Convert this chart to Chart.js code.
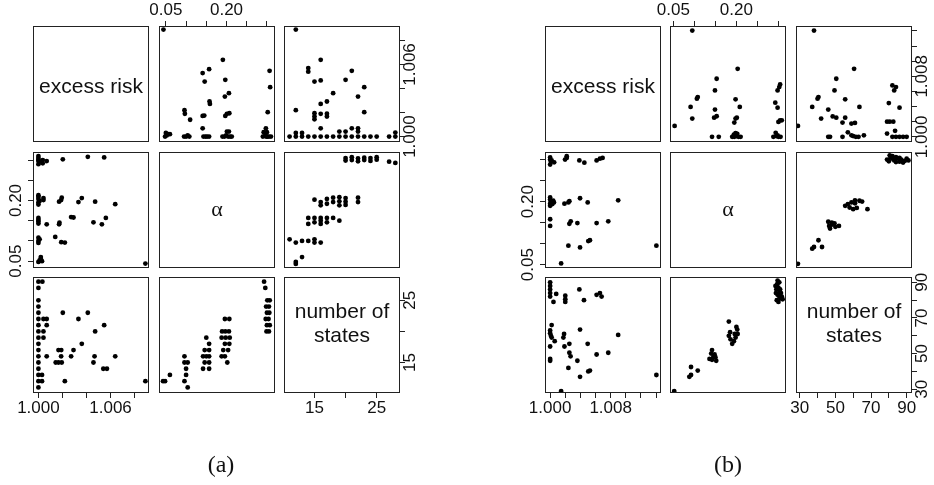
<!DOCTYPE html>
<html>
<head>
<meta charset="utf-8">
<title>pairs plots</title>
<script src="https://cdn.jsdelivr.net/npm/chart.js@4.4.1/dist/chart.umd.min.js"></script>
<style>
  body { margin: 0; background: #fff; }
  #fig { position: relative; width: 934px; height: 485px; overflow: hidden; }
  .cell { position: absolute; }
  .lab { position: absolute; width: 200px; text-align: center; white-space: nowrap; color: #111; }
  .sans { font: 21px/21px "Liberation Sans", Arial, sans-serif; }
  .two { line-height: 24.4px; }
  .greek { font: 22px/22px "Liberation Serif", "DejaVu Serif", serif; }
  .cap { font: 24px/24px "Liberation Serif", "DejaVu Serif", serif; }
</style>
</head>
<body>
<div id="fig">
  <div class="lab sans" style="left:-9px; top:75px">excess risk</div>
  <div class="lab greek" style="left:117px; top:198px">α</div>
  <div class="lab sans two" style="left:242px; top:299px">number of<br>states</div>
  <div class="lab sans" style="left:503px; top:75px">excess risk</div>
  <div class="lab greek" style="left:628px; top:198px">α</div>
  <div class="lab sans two" style="left:754px; top:299px">number of<br>states</div>
  <div class="lab cap" style="left:121px; top:452px">(a)</div>
  <div class="lab cap" style="left:628px; top:452px">(b)</div>
</div>
<script>
// ---- (a) alpha vs excess risk
const aArAlpha = [0.044, 0.048, 0.050, 0.052, 0.056, 0.060,
  0.096, 0.097, 0.110, 0.095, 0.100, 0.104, 0.108,
  0.141, 0.157, 0.146, 0.158, 0.159, 0.141, 0.145, 0.141, 0.143, 0.148, 0.152, 0.157,
  0.191, 0.197, 0.206, 0.196, 0.201, 0.207, 0.197, 0.201, 0.206, 0.190, 0.195, 0.199, 0.204, 0.209, 0.213,
  0.3066, 0.308, 0.302, 0.2975, 0.292, 0.300, 0.290, 0.296, 0.301, 0.305, 0.310, 0.298];
const aArRisk = [1.0089, 1.0000, 1.0003, 1.0001, 1.0002, 1.0002,
  1.0022, 1.0019, 1.0014, 1.0000, 1.0000, 1.0001, 1.0000,
  1.00528, 1.00561, 1.00458, 1.00292, 1.00272, 1.00172, 1.00175, 1.00069, 1.0000, 1.0000, 1.0000, 1.0000,
  1.00639, 1.00472, 1.00361, 1.00333, 1.00189, 1.00194, 1.00172, 1.00042, 1.00042, 1.0000, 1.0000, 1.0001, 1.0000, 1.0000, 1.0000,
  1.00547, 1.00411, 1.00203, 1.00069, 1.00036, 1.00036, 1.0000, 1.0001, 1.0000, 1.0000, 1.0000, 1.0000];

// ---- (a) number of states vs excess risk
const aSrStates = [12, 12, 14, 14, 15, 16, 16, 18, 17, 16, 15, 15, 15, 16, 17, 17, 16, 20, 21, 22, 23, 23, 21, 22, 22, 19, 20, 12, 13, 28,
  11, 12, 13, 14, 15, 16, 17, 18, 19, 20, 21, 22, 23, 24, 25, 27, 28];
const aSrRisk = [1.0089, 1.0022, 1.0057, 1.0054, 1.00458, 1.00639, 1.00467, 1.00361, 1.00292, 1.00272,
  1.00194, 1.00167, 1.00144, 1.00189, 1.0019, 1.00167, 1.00069, 1.00472, 1.00547, 1.00333,
  1.00411, 1.00203, 1.00069, 1.00069, 1.00042, 1.00042, 1.00042, 1.0003, 1.0003, 1.00033,
  1.0000, 1.0000, 1.0000, 1.0000, 1.0000, 1.0000, 1.0000, 1.0000, 1.0000, 1.0000, 1.0000, 1.0000, 1.0000, 1.0000, 1.0000, 1.0000, 1.0000];

// ---- (a) number of states vs alpha
const aSaStates = [20, 20, 21, 21, 22, 22, 23, 23, 24, 24, 25, 25, 27, 28,
  15, 16, 16, 17, 17, 18, 18, 19, 19, 19, 20, 20, 20, 22, 22,
  14, 14, 15, 15, 16, 16, 16, 17, 17, 18, 19,
  11, 12, 13, 14, 15, 15, 16,
  12, 12, 13];
const aSaAlpha = [0.305, 0.299, 0.307, 0.300, 0.304, 0.297, 0.306, 0.300, 0.305, 0.298, 0.307, 0.301, 0.296, 0.293,
  0.202, 0.196, 0.188, 0.204, 0.192, 0.207, 0.196, 0.208, 0.198, 0.188, 0.206, 0.197, 0.189, 0.207, 0.196,
  0.157, 0.142, 0.157, 0.146, 0.157, 0.150, 0.142, 0.157, 0.146, 0.157, 0.150,
  0.104, 0.096, 0.100, 0.100, 0.104, 0.096, 0.096,
  0.048, 0.043, 0.060];

// ---- (b) alpha vs excess risk
const bArAlpha = [0.053, 0.095, 0.091, 0.095, 0.106, 0.108,
  0.153, 0.149, 0.149, 0.147, 0.153, 0.142, 0.158,
  0.203, 0.198, 0.208, 0.198, 0.201, 0.195, 0.198, 0.194, 0.202, 0.190, 0.195, 0.200, 0.205, 0.210,
  0.304, 0.302, 0.298, 0.2925, 0.298, 0.304, 0.308, 0.300, 0.2935, 0.288, 0.295, 0.300, 0.305, 0.298];
const bArRisk = [1.00145, 1.01404, 1.00395, 1.00241, 1.00504, 1.00526,
  1.00768, 1.00614, 1.0036, 1.00254, 1.00272, 1.0000, 1.0000,
  1.00899, 1.00496, 1.00395, 1.00241, 1.00254, 1.00189, 1.0005, 1.0003, 1.0004, 1.0000, 1.0000, 1.0001, 1.0000, 1.0000,
  1.00693, 1.00658, 1.00614, 1.00452, 1.00386, 1.00219, 1.00219, 1.00197, 1.00053, 1.0000, 1.0001, 1.0000, 1.0000, 1.0002];

// ---- (b) number of states vs excess risk
const bSrStates = [29, 38, 37, 42, 40, 40.5, 46, 49.5, 50.5, 48.5, 50.5, 46, 47, 55.5, 55.5, 54, 60.5, 61, 63.5, 59,
  57, 59, 54, 60, 61.5, 63, 66, 80, 79, 80.5, 82.5, 79, 82, 84, 83, 83.5, 86, 82, 84, 86, 88, 90];
const bSrRisk = [1.00145, 1.01404, 1.00395, 1.00241, 1.00504, 1.00526, 1.0036, 1.00614, 1.00768, 1.0027,
  1.00254, 1.0000, 1.0000, 1.00496, 1.00254, 1.00189, 1.00899, 1.00184, 1.00395, 1.00175,
  1.0006, 1.0002, 1.0000, 1.0001, 1.0000, 1.0000, 1.0002, 1.00447, 1.0020, 1.0020,
  1.0020, 1.00044, 1.0068, 1.00658, 1.00614, 1.0008, 1.00386, 1.0000, 1.0000, 1.0000, 1.0000, 1.0000];

// ---- (b) number of states vs alpha
const bSaStates = [29, 37, 38, 40.5, 42.5,
  46, 46.5, 47, 48, 49.5, 50, 52, 48,
  55.5, 57, 58, 60, 61, 62, 63.5, 65, 68, 59, 61,
  79, 80, 80.5, 81, 82, 83, 84, 85, 86, 87, 88, 89, 90, 91, 82, 84, 86];
const bSaAlpha = [0.052, 0.088, 0.092, 0.108, 0.092,
  0.152, 0.142, 0.136, 0.145, 0.148, 0.140, 0.142, 0.150,
  0.190, 0.194, 0.186, 0.182, 0.196, 0.185, 0.202, 0.200, 0.182, 0.198, 0.203,
  0.300, 0.296, 0.310, 0.305, 0.302, 0.298, 0.306, 0.303, 0.295, 0.300, 0.293, 0.297, 0.302, 0.298, 0.308, 0.294, 0.304];

// ---- tick marks and the ones that carry a label
const aRiskTicks = [1.000, 1.002, 1.004, 1.006, 1.008];
const aRiskShown = [1.000, 1.006];
const aAlphaTicks = [0.05, 0.10, 0.15, 0.20, 0.25, 0.30];
const aAlphaShown = [0.05, 0.20];
const aStateTicks = [15, 20, 25];
const aStateShown = [15, 25];
const bRiskTicks = [1.000, 1.002, 1.004, 1.006, 1.008, 1.010, 1.012, 1.014];
const bRiskShown = [1.000, 1.008];
const bAlphaTicks = [0.05, 0.10, 0.15, 0.20, 0.25, 0.30];
const bAlphaShown = [0.05, 0.20];
const bStateTicks = [30, 40, 50, 60, 70, 80, 90];
const bStateShown = [30, 50, 70, 90];

const ticks = {
  a: { risk: [aRiskTicks, aRiskShown], alpha: [aAlphaTicks, aAlphaShown], states: [aStateTicks, aStateShown] },
  b: { risk: [bRiskTicks, bRiskShown], alpha: [bAlphaTicks, bAlphaShown], states: [bStateTicks, bStateShown] }
};
const limits = {
  a: { risk: [0.99955, 1.0092], alpha: [0.033, 0.32], states: [10.1, 28.75] },
  b: { risk: [0.99932, 1.01465], alpha: [0.042, 0.318], states: [27.9, 93.0] }
};
const digits = { risk: 3, alpha: 2, states: 0 };

// layout of the 3x3 grids
const M = 45;        // room round a panel for its axis
const SIZE = 116;
const cols = { a: [33, 159, 284], b: [545, 670, 796] };
const rows = [26, 152, 277];

const FONT = '"Liberation Sans", Arial, sans-serif';
Chart.defaults.font.family = FONT;
Chart.defaults.font.size = 17;
Chart.defaults.color = '#111';

const meas = document.createElement('canvas').getContext('2d');
function textWidth(s) {
  meas.font = '17px ' + FONT;
  return meas.measureText(s).width;
}

// box round every panel
const boxPlugin = {
  id: 'box',
  afterDraw(chart) {
    const a = chart.chartArea, ctx = chart.ctx;
    ctx.save();
    ctx.strokeStyle = '#222';
    ctx.lineWidth = 1;
    ctx.strokeRect(Math.round(a.left) + 0.5, Math.round(a.top) + 0.5,
      Math.round(a.right - a.left) - 1, Math.round(a.bottom - a.top) - 1);
    ctx.restore();
  }
};

function scale(fig, v, pos) {
  const s = { type: 'linear', min: limits[fig][v][0], max: limits[fig][v][1], display: !!pos };
  if (!pos) return s;
  const [at, shown] = ticks[fig][v];
  const vertical = pos === 'left' || pos === 'right';
  const half = textWidth(shown[0].toFixed(digits[v])) / 2;
  s.position = pos;
  s.afterBuildTicks = sc => { sc.ticks = at.map(value => ({ value })); };
  s.afterFit = sc => { if (vertical) sc.width = M; else sc.height = M; };
  s.grid = { drawOnChartArea: false, drawTicks: true, tickLength: 5, tickColor: '#222', tickWidth: 1 };
  s.border = { display: false };
  s.ticks = {
    autoSkip: false,
    font: { size: 17, lineHeight: 1 },
    callback: value => shown.includes(value) ? value.toFixed(digits[v]) : ''
  };
  if (vertical) {
    Object.assign(s.ticks, { minRotation: 90, maxRotation: 90, crossAlign: 'center',
      padding: (pos === 'left' ? 11.5 : 5.5) - half });
  } else {
    Object.assign(s.ticks, { minRotation: 0, maxRotation: 0, padding: pos === 'top' ? 2.6 : 1.6 });
  }
  return s;
}

function panel(fig, r, c, xs, ys, xv, yv, xPos, yPos) {
  const div = document.createElement('div');
  div.className = 'cell';
  div.style.left = (cols[fig][c] - M) + 'px';
  div.style.top = (rows[r] - M) + 'px';
  const cv = document.createElement('canvas');
  cv.width = SIZE + 2 * M;
  cv.height = SIZE + 2 * M;
  div.appendChild(cv);
  document.getElementById('fig').insertBefore(div, document.getElementById('fig').firstChild);

  new Chart(cv, {
    type: 'scatter',
    data: {
      datasets: [{
        data: xs.map((x, i) => ({ x, y: ys[i] })),
        pointRadius: 2.4,
        pointBackgroundColor: '#000',
        pointBorderWidth: 0
      }]
    },
    options: {
      responsive: false,
      animation: false,
      events: [],
      layout: {
        padding: {
          left: yPos === 'left' ? 0 : M, right: yPos === 'right' ? 0 : M,
          top: xPos === 'top' ? 0 : M, bottom: xPos === 'bottom' ? 0 : M
        }
      },
      plugins: { legend: { display: false }, tooltip: { enabled: false } },
      scales: { x: scale(fig, xv, xPos), y: scale(fig, yv, yPos) }
    },
    plugins: [boxPlugin]
  });
}

// (a)
panel('a', 0, 0, [], [], 'risk', 'risk', null, null);
panel('a', 0, 1, aArAlpha, aArRisk, 'alpha', 'risk', 'top', null);
panel('a', 0, 2, aSrStates, aSrRisk, 'states', 'risk', null, 'right');
panel('a', 1, 0, aArRisk, aArAlpha, 'risk', 'alpha', null, 'left');
panel('a', 1, 1, [], [], 'alpha', 'alpha', null, null);
panel('a', 1, 2, aSaStates, aSaAlpha, 'states', 'alpha', null, null);
panel('a', 2, 0, aSrRisk, aSrStates, 'risk', 'states', 'bottom', null);
panel('a', 2, 1, aSaAlpha, aSaStates, 'alpha', 'states', null, null);
panel('a', 2, 2, [], [], 'states', 'states', 'bottom', 'right');

// (b)
panel('b', 0, 0, [], [], 'risk', 'risk', null, null);
panel('b', 0, 1, bArAlpha, bArRisk, 'alpha', 'risk', 'top', null);
panel('b', 0, 2, bSrStates, bSrRisk, 'states', 'risk', null, 'right');
panel('b', 1, 0, bArRisk, bArAlpha, 'risk', 'alpha', null, 'left');
panel('b', 1, 1, [], [], 'alpha', 'alpha', null, null);
panel('b', 1, 2, bSaStates, bSaAlpha, 'states', 'alpha', null, null);
panel('b', 2, 0, bSrRisk, bSrStates, 'risk', 'states', 'bottom', null);
panel('b', 2, 1, bSaAlpha, bSaStates, 'alpha', 'states', null, null);
panel('b', 2, 2, [], [], 'states', 'states', 'bottom', 'right');
</script>
</body>
</html>
